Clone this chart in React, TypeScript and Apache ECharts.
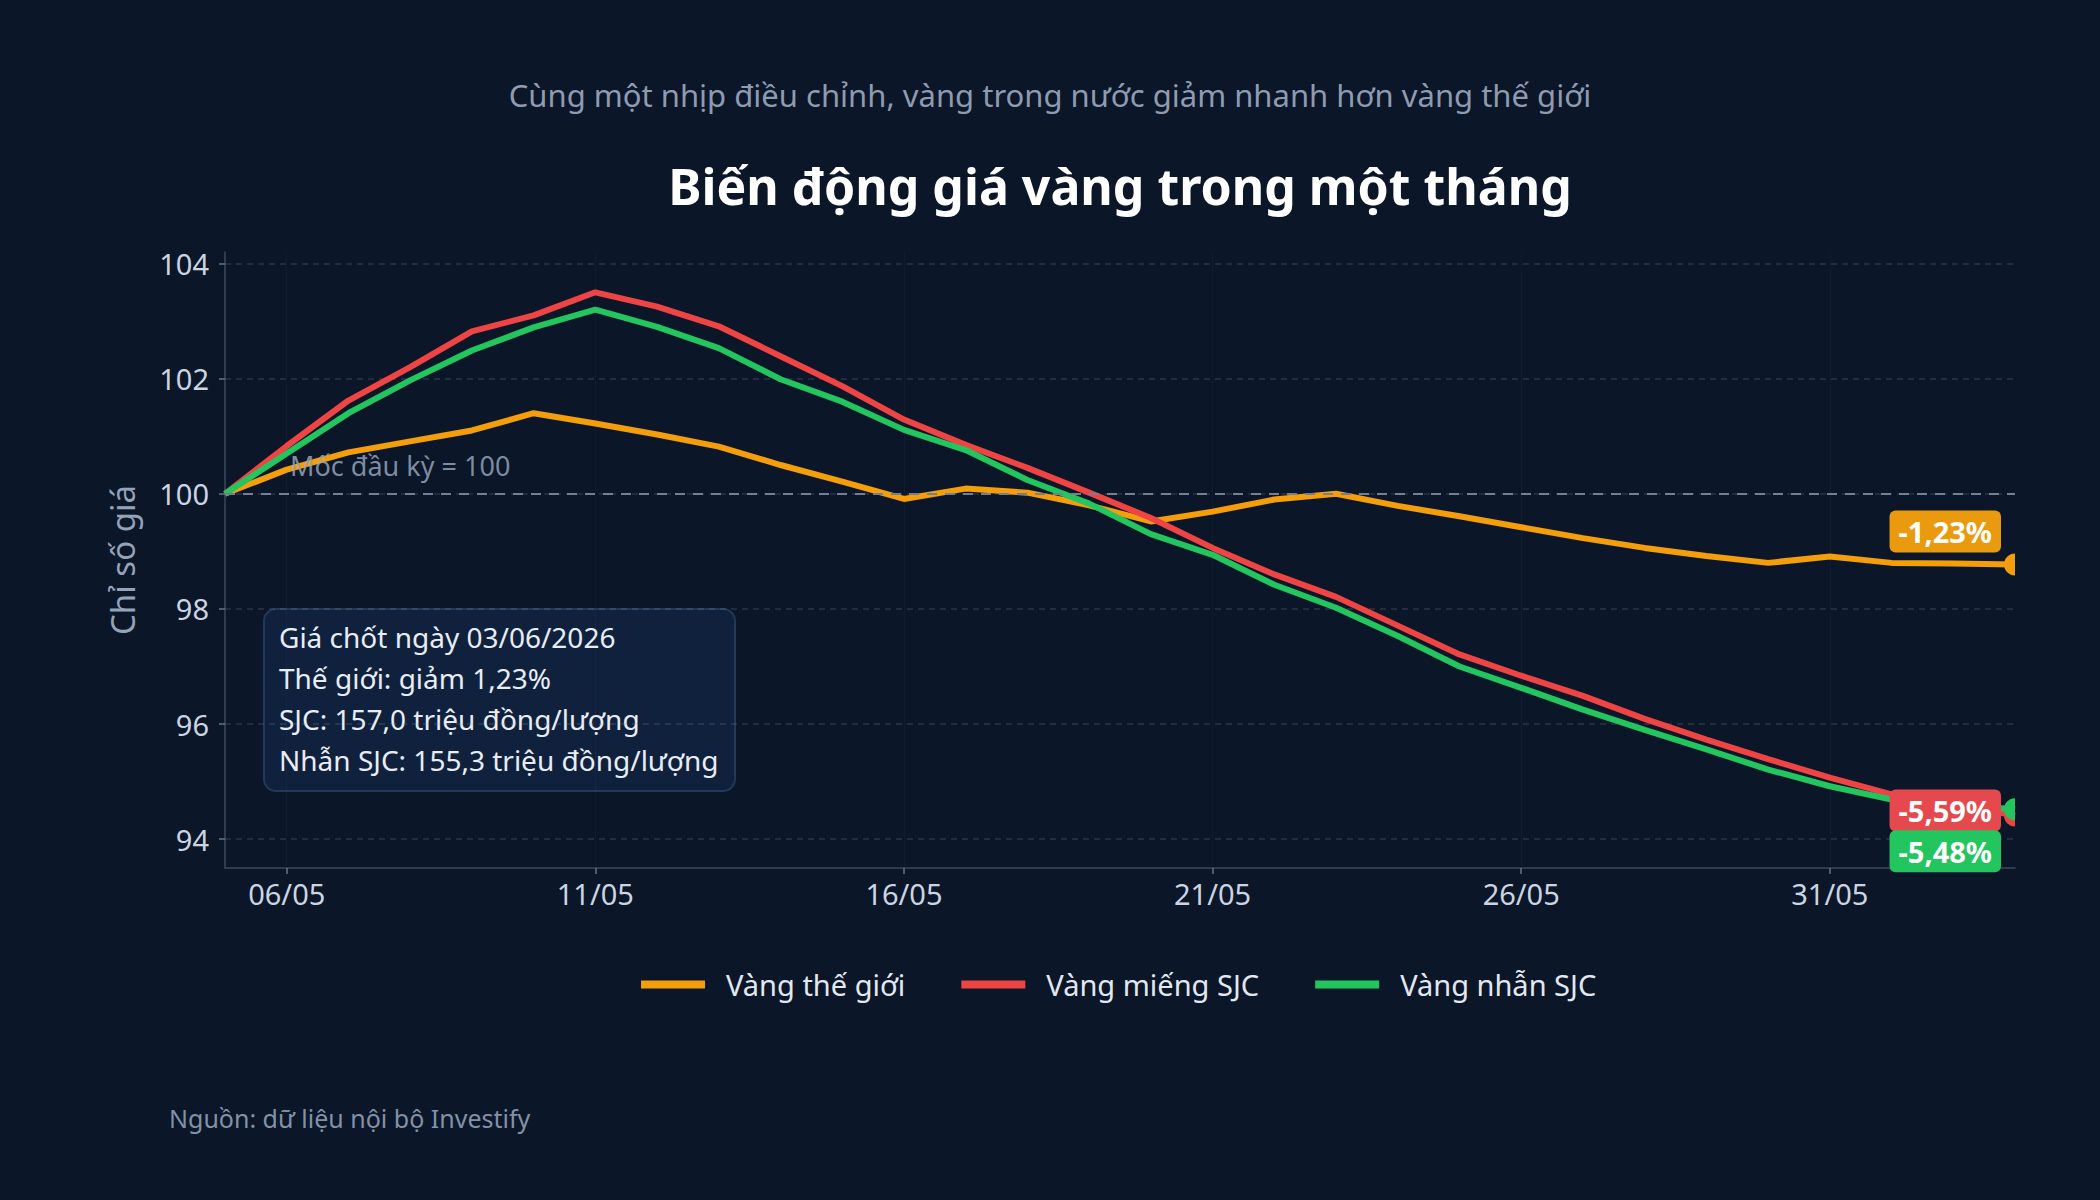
import React, { useEffect, useRef } from 'react';
import * as echarts from 'echarts';

const DATES = [
  '05/05', '06/05', '07/05', '08/05', '09/05', '10/05', '11/05', '12/05', '13/05', '14/05',
  '15/05', '16/05', '17/05', '18/05', '19/05', '20/05', '21/05', '22/05', '23/05', '24/05',
  '25/05', '26/05', '27/05', '28/05', '29/05', '30/05', '31/05', '01/06', '02/06', '03/06',
];

const WORLD = [
  100, 100.42, 100.72, 100.91, 101.1, 101.4, 101.22, 101.03, 100.82, 100.5,
  100.21, 99.91, 100.09, 100.02, 99.8, 99.52, 99.69, 99.9, 100.0, 99.79,
  99.61, 99.42, 99.23, 99.06, 98.92, 98.8, 98.91, 98.8, 98.79, 98.77,
];

const SJC_BAR = [
  100, 100.83, 101.62, 102.2, 102.82, 103.1, 103.5, 103.25, 102.91, 102.39,
  101.87, 101.29, 100.85, 100.45, 100.02, 99.58, 99.06, 98.6, 98.21, 97.71,
  97.21, 96.84, 96.49, 96.09, 95.73, 95.39, 95.07, 94.78, 94.62, 94.41,
];

const SJC_RING = [
  100, 100.7, 101.4, 101.97, 102.49, 102.89, 103.2, 102.9, 102.53, 101.99,
  101.6, 101.11, 100.76, 100.24, 99.83, 99.3, 98.94, 98.42, 98.02, 97.53,
  97.0, 96.63, 96.25, 95.9, 95.56, 95.21, 94.92, 94.69, 94.6, 94.52,
];

const Y_TICKS = [94, 96, 98, 100, 102, 104];
const SERIES_NAMES = ['Vàng thế giới', 'Vàng miếng SJC', 'Vàng nhẫn SJC'];
const SUBTITLE = 'Cùng một nhịp điều chỉnh, vàng trong nước giảm nhanh hơn vàng thế giới';
const TITLE = 'Biến động giá vàng trong một tháng';
const Y_NAME = 'Chỉ số giá';
const BASE_LABEL = 'Mốc đầu kỳ = 100';
const SOURCE = 'Nguồn: dữ liệu nội bộ Investify';
const NOTE_LINES = [
  'Giá chốt ngày 03/06/2026',
  'Thế giới: giảm 1,23%',
  'SJC: 157,0 triệu đồng/lượng',
  'Nhẫn SJC: 155,3 triệu đồng/lượng',
];

const BG = '#0b1628';
const COLORS = ['#f59e0b', '#ef4444', '#22c55e'];
const LABEL_BG = ['#ea9a0f', '#e5484d', '#22c55e'];
const END_OFFSETS = [-33, -5, 42];
const FONT = '"Noto Sans", sans-serif';
const END_SYMBOL = 'path://M10,0 C4.477,0 0,4.477 0,10 C0,15.523 4.477,20 10,20 Z';

const labelInterval = (idx: number) => idx % 5 === 1;

const fmtPct = (v: number) => {
  const d = v - 100;
  const s = Math.abs(d).toFixed(2).replace('.', ',');
  return (d < 0 ? '-' : '+') + s + '%';
};

function buildSeries(i: number, values: number[], extra: any = {}) {
  const last = values.length - 1;
  return {
    name: SERIES_NAMES[i],
    type: 'line',
    color: COLORS[i],
    symbol: 'none',
    showSymbol: true,
    showAllSymbol: true,
    lineStyle: { color: COLORS[i], width: 6 },
    itemStyle: { color: COLORS[i] },
    emphasis: { disabled: true },
    label: { show: false },
    data: values.map((v, idx) =>
      idx === last
        ? {
            value: v,
            symbol: END_SYMBOL,
            symbolSize: [11, 22],
            symbolOffset: [-5.5, 0],
            label: {
              show: true,
              position: 'left',
              distance: 3,
              offset: [0, END_OFFSETS[i]],
              formatter: () => fmtPct(v),
              color: '#ffffff',
              fontFamily: FONT,
              fontSize: 29,
              fontWeight: 'bold',
              lineHeight: 30,
              backgroundColor: LABEL_BG[i],
              borderRadius: 6,
              padding: [6, 9],
            },
          }
        : v
    ),
    ...extra,
  };
}

export default function App() {
  const ref = useRef<HTMLDivElement>(null);

  useEffect(() => {
    const el = ref.current;
    if (!el) return;
    const chart = echarts.init(el, null, { renderer: 'svg' });

    const option: any = {
      animation: false,
      backgroundColor: BG,
      textStyle: { fontFamily: FONT },
      grid: { left: 225, right: 85, top: 252, bottom: 332, containLabel: false },
      legend: {
        top: 965,
        left: 636,
        icon: 'rect',
        itemWidth: 64,
        itemHeight: 8,
        itemGap: 56,
        selectedMode: false,
        data: SERIES_NAMES,
        textStyle: { color: '#e2e8f0', fontSize: 29, fontFamily: FONT, padding: [0, 0, 0, 16] },
      },
      xAxis: {
        type: 'category',
        data: DATES,
        boundaryGap: false,
        axisLine: { show: true, lineStyle: { color: '#3b4a61', width: 1.5 } },
        axisTick: { show: true, length: 6, interval: labelInterval, lineStyle: { color: '#64748b', width: 1.5 } },
        axisLabel: { interval: labelInterval, color: '#cbd5e1', fontSize: 29, fontFamily: FONT, margin: 11 },
        splitLine: {
          show: true,
          interval: labelInterval,
          lineStyle: { color: 'rgba(148,163,184,0.08)', type: 'dotted', width: 1 },
        },
      },
      yAxis: {
        type: 'value',
        min: 93.5,
        max: 104.2,
        name: Y_NAME,
        nameLocation: 'middle',
        nameGap: 86,
        nameTextStyle: { color: '#94a3b8', fontSize: 33, fontFamily: FONT },
        axisLine: { show: true, lineStyle: { color: '#3b4a61', width: 1.5 } },
        axisTick: { show: true, length: 6, customValues: Y_TICKS, lineStyle: { color: '#64748b', width: 1.5 } },
        axisLabel: { customValues: Y_TICKS, color: '#cbd5e1', fontSize: 29, fontFamily: FONT, margin: 16 },
        splitLine: {
          show: true,
          lineStyle: { color: 'rgba(148,163,184,0.22)', type: [6, 5], width: 1.5 },
        },
      },
      series: [
        buildSeries(0, WORLD),
        buildSeries(1, SJC_BAR),
        buildSeries(2, SJC_RING, {
          markLine: {
            silent: true,
            symbol: 'none',
            data: [{ yAxis: 100 }],
            lineStyle: { color: '#718096', type: [10, 8], width: 2 },
            label: {
              show: true,
              position: 'insideStartTop',
              formatter: BASE_LABEL,
              color: 'rgba(148,163,184,0.85)',
              fontSize: 27,
              fontFamily: FONT,
              padding: [0, 0, 0, 50],
              distance: 15,
            },
            emphasis: { disabled: true },
          },
        }),
      ],
      graphic: [
        {
          type: 'text',
          x: 1050,
          y: 95,
          style: {
            text: SUBTITLE,
            fill: '#8e9bb0',
            fontSize: 31,
            fontFamily: FONT,
            align: 'center',
            verticalAlign: 'middle',
            textAlign: 'center',
            textVerticalAlign: 'middle',
          },
        },
        {
          type: 'text',
          x: 1120,
          y: 186,
          style: {
            text: TITLE,
            fill: '#ffffff',
            fontSize: 50,
            fontWeight: 'bold',
            fontFamily: FONT,
            align: 'center',
            verticalAlign: 'middle',
            textAlign: 'center',
            textVerticalAlign: 'middle',
          },
        },
        {
          type: 'group',
          x: 264,
          y: 609,
          children: [
            {
              type: 'rect',
              shape: { x: 0, y: 0, width: 471, height: 182, r: 12 },
              style: { fill: '#10213d', stroke: '#22395a', lineWidth: 2 },
            },
            {
              type: 'text',
              x: 15,
              y: 7,
              style: {
                text: NOTE_LINES.join('\n'),
                fill: '#e8edf5',
                fontSize: 28,
                lineHeight: 41,
                fontFamily: FONT,
                align: 'left',
                verticalAlign: 'top',
              },
            },
          ],
        },
        {
          type: 'text',
          x: 169,
          y: 1118,
          style: {
            text: SOURCE,
            fill: '#8391a7',
            fontSize: 25,
            fontFamily: FONT,
            align: 'left',
            verticalAlign: 'middle',
          },
        },
      ],
    };

    chart.setOption(option);
    return () => chart.dispose();
  }, []);

  return (
    <div
      ref={ref}
      style={{ position: 'fixed', left: 0, top: 0, width: 2100, height: 1200, background: BG }}
    />
  );
}
